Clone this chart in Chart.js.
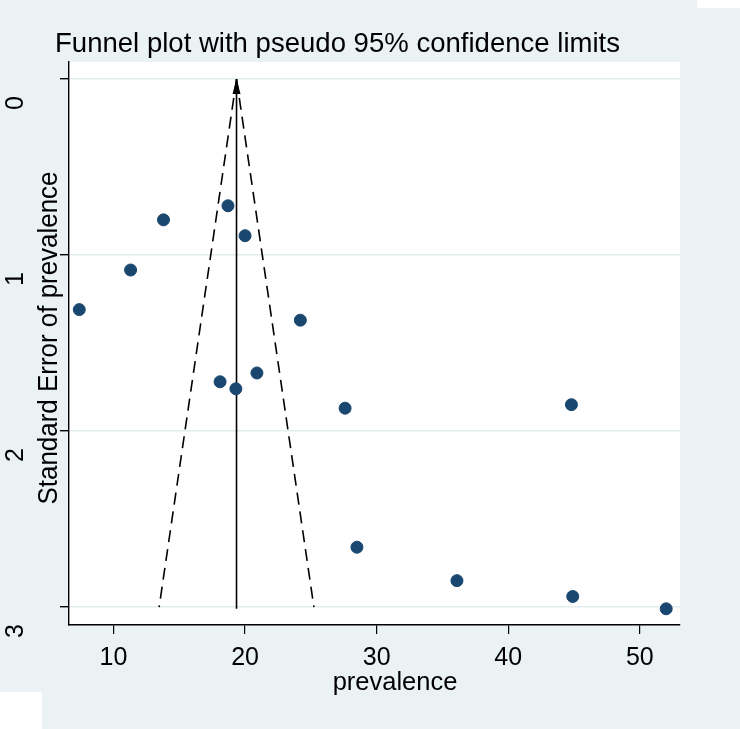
<!DOCTYPE html>
<html>
<head>
<meta charset="utf-8">
<script src="https://cdn.jsdelivr.net/npm/chart.js@4.4.1/dist/chart.umd.min.js"></script>
<style>
  html, body { margin: 0; padding: 0; background: #eaf2f3; }
  #wrap { position: relative; width: 740px; height: 729px; }
  .patch { position: absolute; background: #fff; }
</style>
</head>
<body>
<div id="wrap">
  <canvas id="funnel" width="740" height="729"></canvas>
  <div class="patch" style="left:697px;top:0;width:43px;height:8px;"></div>
  <div class="patch" style="left:0;top:692px;width:42px;height:37px;"></div>
</div>
<script>
"use strict";

// study estimates
const prevalence = [7.4, 11.3, 13.8, 18.7, 20.0, 24.2, 18.1, 19.3, 20.9, 27.6, 44.8, 28.5, 36.1, 44.9, 52.0];
const stdError = [1.31, 1.085, 0.80, 0.72, 0.89, 1.37, 1.72, 1.76, 1.67, 1.87, 1.85, 2.66, 2.85, 2.94, 3.01];

// pooled estimate line and pseudo 95% limits
const pooledX = [19.35, 19.35];
const pooledSE = [3.01, 0];
const lowerLimitX = [19.35, 13.47];
const upperLimitX = [19.35, 25.23];
const limitSE = [0, 3.0];

const xTicks = [10, 20, 30, 40, 50];
const yTicks = [0, 1, 2, 3];

const FONT = "'Liberation Sans', Arial, sans-serif";
const NAVY = "#1a476f";
const BG = "#eaf2f3";

const toPoints = (xs, ys) => xs.map((x, i) => ({ x, y: ys[i] }));

// draw left-aligned text squeezed or stretched to a given width (Stata's font is a bit narrower)
function fitText(ctx, text, x, y, width) {
  const w = ctx.measureText(text).width;
  ctx.save();
  ctx.textAlign = "left";
  ctx.translate(x, y);
  ctx.scale(width / w, 1);
  ctx.fillText(text, 0, 0);
  ctx.restore();
}

const stataFrame = {
  id: "stataFrame",
  beforeDraw(chart) {
    const { ctx, chartArea: a } = chart;
    ctx.save();
    ctx.fillStyle = BG;
    ctx.fillRect(0, 0, chart.width, chart.height);
    ctx.fillStyle = "#fff";
    ctx.fillRect(a.left, a.top, a.right - a.left, a.bottom - a.top);
    ctx.restore();
  },
  afterDatasetsDraw(chart) {
    // arrow head on top of the pooled estimate line
    const { ctx, scales } = chart;
    const px = scales.x.getPixelForValue(pooledX[1]);
    const py = scales.y.getPixelForValue(pooledSE[1]);
    ctx.save();
    ctx.fillStyle = "#000";
    ctx.beginPath();
    ctx.moveTo(px, py);
    ctx.lineTo(px - 4, py + 15);
    ctx.lineTo(px + 4, py + 15);
    ctx.closePath();
    ctx.fill();
    ctx.restore();
  },
  afterDraw(chart) {
    const { ctx, scales } = chart;
    ctx.save();
    ctx.fillStyle = "#000";

    // title
    ctx.font = "28px " + FONT;
    ctx.textBaseline = "alphabetic";
    fitText(ctx, "Funnel plot with pseudo 95% confidence limits", 55, 52, 565);

    // rotated y tick labels
    ctx.font = "25px " + FONT;
    ctx.textAlign = "center";
    ctx.textBaseline = "middle";
    yTicks.forEach(v => {
      const py = scales.y.getPixelForValue(v) + 24;
      ctx.save();
      ctx.translate(16, py);
      ctx.rotate(-Math.PI / 2);
      ctx.fillText(String(v), 0, 0);
      ctx.restore();
    });

    // y axis title
    ctx.save();
    ctx.font = "27px " + FONT;
    ctx.textBaseline = "alphabetic";
    ctx.translate(57, 338);
    ctx.rotate(-Math.PI / 2);
    fitText(ctx, "Standard Error of prevalence", -333 / 2, 0, 333);
    ctx.restore();

    // x tick labels and title
    ctx.textAlign = "center";
    ctx.textBaseline = "alphabetic";
    xTicks.forEach(v => {
      ctx.fillText(String(v), scales.x.getPixelForValue(v), 665);
    });
    ctx.font = "25.5px " + FONT;
    ctx.textBaseline = "middle";
    ctx.fillText("prevalence", 395, 683);
    ctx.restore();
  }
};

new Chart(document.getElementById("funnel"), {
  type: "scatter",
  data: {
    datasets: [
      {
        label: "studies",
        data: toPoints(prevalence, stdError),
        backgroundColor: NAVY,
        borderColor: NAVY,
        pointRadius: 6,
        pointHoverRadius: 6,
        order: 0
      },
      {
        label: "pooled",
        data: toPoints(pooledX, pooledSE),
        showLine: true,
        borderColor: "#000",
        borderWidth: 1.6,
        pointRadius: 0,
        order: 1
      },
      {
        label: "lower",
        data: toPoints(lowerLimitX, limitSE),
        showLine: true,
        borderColor: "#000",
        borderWidth: 1.6,
        borderDash: [12, 7],
        pointRadius: 0,
        order: 1
      },
      {
        label: "upper",
        data: toPoints(upperLimitX, limitSE),
        showLine: true,
        borderColor: "#000",
        borderWidth: 1.6,
        borderDash: [12, 7],
        pointRadius: 0,
        order: 1
      }
    ]
  },
  options: {
    responsive: false,
    animation: false,
    devicePixelRatio: 1,
    layout: { padding: { left: 0, top: 62, right: 60, bottom: 0 } },
    plugins: { legend: { display: false }, tooltip: { enabled: false } },
    scales: {
      x: {
        type: "linear",
        min: 6.62,
        max: 53.05,
        afterBuildTicks: scale => { scale.ticks = xTicks.map(value => ({ value })); },
        afterFit: scale => { scale.height = 104; },
        ticks: { display: false },
        grid: { drawOnChartArea: false, drawTicks: true, tickLength: 9, color: "#000", lineWidth: 1.2 },
        border: { display: true, color: "#000", width: 1.4 }
      },
      y: {
        type: "linear",
        reverse: true,
        min: -0.097,
        max: 3.102,
        afterBuildTicks: scale => { scale.ticks = yTicks.map(value => ({ value })); },
        afterFit: scale => { scale.width = 69; },
        ticks: { display: false },
        grid: { drawOnChartArea: true, drawTicks: true, tickLength: 9, color: "#e3ecee", tickColor: "#000", lineWidth: 1.4 },
        border: { display: true, color: "#000", width: 1.4 }
      }
    }
  },
  plugins: [stataFrame]
});
</script>
</body>
</html>
